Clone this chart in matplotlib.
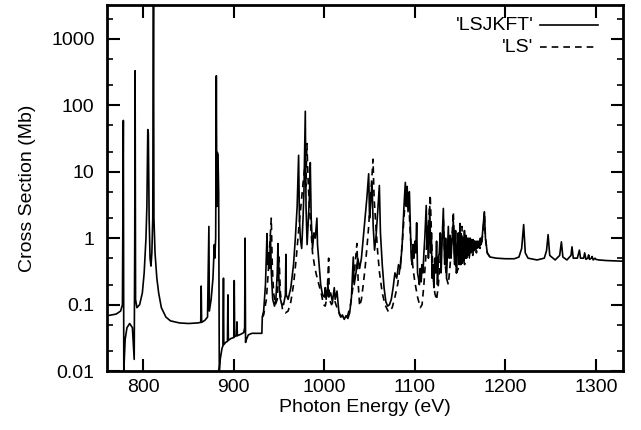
import matplotlib
matplotlib.use("Agg")
import matplotlib.pyplot as plt
from matplotlib.ticker import LogLocator, NullFormatter, FixedLocator

plt.rcParams['font.family'] = ['Liberation Sans', 'DejaVu Sans']

# photon energy (eV) and cross section (Mb)
lsjkft_energy = [
    760, 770, 775, 777, 778, 778.5, 780, 782, 785, 788, 790, 790.6, 791, 791.5,
    793, 796, 799, 801, 803, 804, 805, 805.6, 806.5, 807.5, 808.5, 809.5, 810.5,
    811.3, 811.8, 813, 815, 817, 820, 825, 830, 840, 850, 860, 863.5, 864, 864.5,
    868, 871, 872.5, 873, 875, 877, 878.5, 879, 880, 880.7, 881.3, 881.8, 882.5,
    883.3, 884, 885, 887, 888, 888.6, 889, 891, 893, 893.5, 894, 897, 900, 900.5,
    901, 903, 903.5, 904, 908, 911, 912, 912.5, 913, 914, 916, 920, 931,
    931.5, 933, 935, 936.7, 937.5, 938.5, 939.5, 940.5, 941.5, 943, 945, 946.5,
    948, 948.8, 949.5, 951, 953, 955, 957, 957.6, 958, 960, 963, 966, 968, 970,
    971.6, 972.5, 973.5, 975, 976.5, 977.5, 979, 979.8, 981, 982, 983.5, 984.5,
    985.5, 987, 988.5, 990, 991.8, 992.5, 994, 996, 998, 1000, 1001, 1002, 1004,
    1005, 1007, 1009, 1011, 1012, 1014, 1016, 1018, 1020, 1022, 1024, 1026, 1028,
    1030, 1032, 1033, 1035, 1037, 1039, 1041, 1043, 1045, 1047, 1049, 1050, 1051,
    1052.7, 1054, 1055.5, 1057, 1059, 1060.8, 1062, 1064, 1066, 1068, 1070, 1072,
    1074, 1076, 1078, 1080, 1082, 1084, 1086, 1088, 1089.5, 1090.5, 1091.5,
    1092.5, 1094,
    1095, 1096, 1097, 1098, 1099, 1100, 1101, 1102, 1103, 1104, 1105, 1106, 1107,
    1108, 1109, 1110, 1111, 1112.6, 1113.5, 1114.3, 1115, 1116.5, 1117.5, 1118.3,
    1119, 1120, 1121, 1122, 1123, 1124, 1125, 1126, 1127, 1128, 1129, 1130,
    1131.5, 1132.3, 1133, 1134, 1135, 1136, 1137, 1138, 1139, 1140, 1141, 1142.5,
    1143.3, 1144, 1145, 1146, 1147, 1148, 1149, 1150, 1150.8, 1151.6, 1152.4,
    1153.2, 1154, 1154.8, 1155.6, 1156.4, 1157.2, 1158, 1158.8, 1159.6, 1160.4,
    1161.2, 1162, 1162.8, 1163.6, 1164.4, 1165.2, 1166, 1166.8, 1167.6, 1168.4,
    1169.2, 1170, 1170.8, 1171.6, 1172.4, 1173.2, 1174, 1175, 1176.8, 1178,
    1180, 1183, 1190,
    1200, 1210, 1215, 1218, 1220.2, 1222, 1225, 1235, 1243, 1245.5, 1247.2, 1249,
    1255, 1260, 1261.9, 1263.5, 1268, 1272.5, 1273.6, 1275, 1279.5, 1281.8, 1283,
    1286.5, 1287.6, 1289, 1291, 1292, 1293, 1295, 1295.8, 1297, 1299, 1300, 1303,
    1312, 1330,
]
lsjkft_sigma = [
    0.068, 0.072, 0.08, 0.1, 59, 0.01, 0.03, 0.045, 0.052, 0.045, 0.015, 1.0, 330, 0.12,
    0.09, 0.1, 0.15, 0.3, 1.0, 3, 43, 38, 2, 0.5, 0.38, 0.6, 2,
    5000, 2, 0.6, 0.25, 0.15, 0.09, 0.065, 0.057, 0.053, 0.052, 0.053, 0.054, 0.19, 0.054,
    0.058, 0.065, 1.5, 0.08, 0.12, 0.25, 0.8, 0.5, 1.0, 277, 3, 19.5, 18,
    5, 0.01, 0.015, 0.022, 0.024, 0.25, 0.025, 0.027, 0.028, 0.14, 0.029, 0.031, 0.032, 0.23,
    0.033, 0.034, 0.055, 0.034, 0.036, 0.038, 0.045, 1.0, 0.027, 0.03, 0.035, 0.037, 0.037,
    0.065, 0.08, 0.2, 1.17, 0.4, 0.6, 0.35, 1.1, 0.3, 0.12, 0.095, 0.12,
    0.3, 0.83, 0.3, 0.13, 0.1, 0.1, 0.14, 0.57, 0.14, 0.12, 0.18, 0.4, 1.0, 3,
    17.6, 2, 1.0, 0.7, 2, 5, 81, 3, 0.8, 1.5, 4, 13.7,
    2, 0.7, 1.2, 1.0, 2.0, 0.8, 0.45, 0.2, 0.14, 0.13, 0.18, 0.12, 0.2,
    0.13, 0.15, 0.11, 0.18, 0.12, 0.16, 0.08, 0.065, 0.07, 0.06, 0.068, 0.062, 0.075,
    0.13, 0.52, 0.2, 0.3, 0.5, 0.35, 0.5, 1.0, 2, 4, 9.3, 2, 3,
    7, 1.5, 0.66, 1.0, 2.5, 6.2, 1.2, 0.4, 0.18, 0.11, 0.095, 0.1,
    0.12, 0.18, 0.3, 0.25, 0.4, 0.35, 0.8, 3, 6.9, 3, 6,
    2.5, 5,
    1.5, 0.5, 0.4, 0.8, 0.5, 0.9, 0.6, 1.7, 0.3, 0.25, 0.2, 0.35, 0.22,
    0.4, 0.3, 0.6, 1.0, 3.1, 0.7, 1.5, 0.5, 3.0, 0.6, 1.2,
    0.25, 0.4, 0.18, 0.5, 0.3, 0.9, 0.2, 0.5, 0.6, 1.2, 0.3, 0.8,
    2.8, 0.8, 0.4, 1.0, 0.25, 0.6, 1.5, 0.5, 1.1, 0.5, 0.9, 1.8,
    0.6, 0.4, 1.3, 0.3, 0.7, 1.2, 0.4, 1.66, 0.4, 1.1, 0.42,
    1.0, 0.45, 1.3, 0.5, 1.1, 0.5, 1.0, 0.55, 1.0, 0.6,
    1.0, 0.6, 0.95, 0.62, 0.95, 0.65, 0.9, 0.68, 0.9, 0.7,
    0.9, 0.72, 0.9, 0.75, 1.0, 0.8, 0.9, 1.3, 2.5, 1.0,
    0.6, 0.52, 0.5,
    0.49, 0.49, 0.52, 0.7, 1.6, 0.6, 0.5, 0.47, 0.5, 0.65, 1.13, 0.55,
    0.47, 0.55, 0.88, 0.52, 0.47, 0.55, 0.74, 0.5, 0.5, 0.66, 0.5,
    0.5, 0.6, 0.48, 0.5, 0.56, 0.48, 0.5, 0.53, 0.47, 0.5, 0.48, 0.47,
    0.46, 0.45,
]

ls_energy = [
    931.5, 933, 936, 938, 940, 941.4, 942.5, 944, 946, 948, 950, 951.5, 954, 957,
    960, 963, 966, 969, 972, 975, 977, 978.5, 979.5, 980.8, 982, 983.5, 985, 987,
    989, 991, 994, 997, 999, 1001, 1003, 1004.8, 1005.5, 1008, 1011, 1014, 1017,
    1020, 1023, 1026, 1029, 1032, 1034, 1036, 1037.5, 1039, 1041, 1043, 1045,
    1047, 1049, 1051, 1052.5, 1053.8, 1055, 1057, 1059, 1061, 1064, 1067, 1071,
    1075, 1078, 1081, 1084, 1086, 1088, 1090.5, 1092, 1093, 1094.5, 1096, 1098,
    1100, 1103, 1106, 1108, 1110, 1112, 1114, 1115.5, 1117, 1118.5, 1120, 1122,
    1124, 1126, 1128, 1130, 1131.5, 1133, 1135, 1137, 1139, 1141, 1142.5, 1144,
    1146, 1148, 1150, 1152, 1153.5, 1155, 1157, 1158.5, 1160, 1162, 1164, 1166,
    1168, 1170, 1172, 1174, 1175.5, 1176.8, 1178, 1180, 1183,
]
ls_sigma = [
    0.065, 0.07, 0.12, 0.3, 0.9, 2.0, 0.4, 0.15, 0.1, 0.12, 0.52, 0.15, 0.08, 0.075,
    0.08, 0.11, 0.2, 0.5, 1.5, 4, 8, 11.7, 6, 26.5, 8, 3, 1.5, 0.6,
    0.4, 0.29, 0.2, 0.14, 0.1, 0.095, 0.13, 0.5, 0.12, 0.1, 0.12, 0.09, 0.07,
    0.065, 0.062, 0.07, 0.1, 0.2, 0.4, 0.83, 0.2, 0.095, 0.12, 0.2, 0.35,
    0.7, 1.5, 4, 8, 15.4, 4, 1.5, 0.6, 0.3, 0.15, 0.1, 0.077,
    0.09, 0.13, 0.2, 0.4, 0.8, 2, 6.5, 3, 5, 1.5, 0.7, 0.35,
    0.22, 0.13, 0.09, 0.1, 0.2, 0.5, 1.2, 2, 4.5, 1, 0.3, 0.15,
    0.117, 0.2, 0.5, 1.0, 2.0, 0.5, 0.25, 0.2, 0.4, 1.0, 2.5, 0.6,
    0.3, 0.35, 0.8, 1.5, 0.5, 0.4, 0.9, 0.5, 0.5, 0.8, 0.55, 0.9,
    0.6, 0.8, 0.7, 0.9, 1.3, 2.5, 1.0, 0.6, 0.52,
]
assert len(lsjkft_energy) == len(lsjkft_sigma)
assert len(ls_energy) == len(ls_sigma)

xticks = [800, 900, 1000, 1100, 1200, 1300]
yticks = [0.01, 0.1, 1, 10, 100, 1000]
ytick_labels = ['0.01', '0.1', '1', '10', '100', '1000']

fig = plt.figure(figsize=(6.41, 4.30), dpi=100)
ax = fig.add_axes([0.167, 0.137, 0.805, 0.851])

ax.plot(lsjkft_energy, lsjkft_sigma, color='black', lw=1.2)
ax.plot(ls_energy, ls_sigma, color='black', lw=1.2, dashes=(4, 3))

ax.set_yscale('log')
ax.set_xlim(760, 1330)
ax.set_ylim(0.01, 3200)

ax.set_xticks(xticks)
ax.set_xticklabels([str(t) for t in xticks])
ax.yaxis.set_major_locator(FixedLocator(yticks))
ax.set_yticklabels(ytick_labels)
ax.yaxis.set_minor_locator(LogLocator(base=10, subs=(2, 5)))
ax.yaxis.set_minor_formatter(NullFormatter())

ax.tick_params(which='both', direction='in', top=True, right=True, labelsize=14)
ax.tick_params(which='major', length=9, width=1.5)
ax.tick_params(which='minor', length=4.5, width=1.2)
ax.tick_params(axis='y', pad=9)
ax.tick_params(axis='x', pad=6)
for s in ax.spines.values():
    s.set_linewidth(2)

ax.set_xlabel('Photon Energy (eV)', fontsize=14, labelpad=2)
ax.set_ylabel('Cross Section (Mb)', fontsize=14, labelpad=11)

# gnuplot-style key: right-aligned text followed by line sample
ax.text(0.826, 0.945, "'LSJKFT'", transform=ax.transAxes, ha='right', va='center', fontsize=14)
ax.text(0.826, 0.885, "'LS'", transform=ax.transAxes, ha='right', va='center', fontsize=14)
ax.plot([0.839, 0.952], [0.945, 0.945], transform=ax.transAxes, color='black', lw=1.2)
ax.plot([0.839, 0.952], [0.885, 0.885], transform=ax.transAxes, color='black', lw=1.2, dashes=(4, 3))

fig.savefig('out.png', dpi=100)
